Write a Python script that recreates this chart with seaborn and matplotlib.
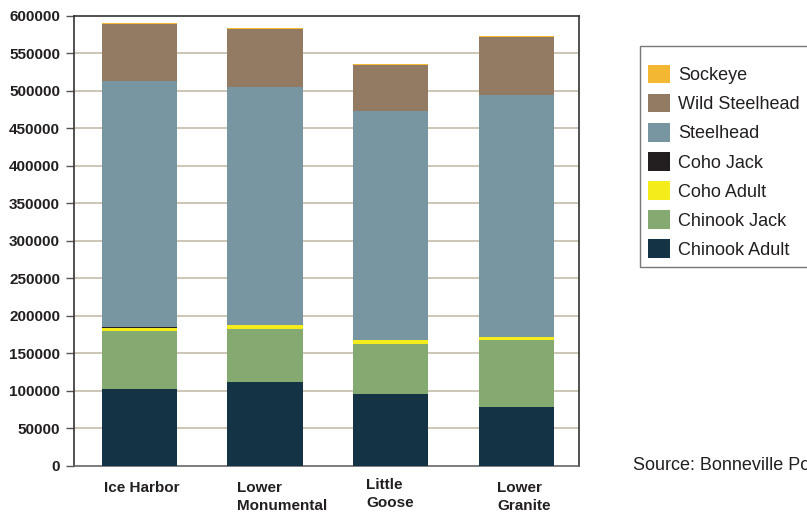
import numpy as np
import pandas as pd
import matplotlib
matplotlib.use("Agg")
import matplotlib.pyplot as plt
import seaborn as sns
from matplotlib.patches import Patch
from matplotlib.transforms import blended_transform_factory

sites = ["Ice Harbor", "Lower\nMonumental", "Little\nGoose", "Lower\nGranite"]
# stacked from bottom to top
species = ["Chinook Adult", "Chinook Jack", "Coho Adult", "Coho Jack",
           "Steelhead", "Wild Steelhead", "Sockeye"]
chinook_adult = [102700, 112000, 96000, 78700]
chinook_jack = [77300, 70700, 66700, 89300]
coho_adult = [4000, 5300, 5300, 4000]
coho_jack = [1700, 300, 300, 200]
steelhead = [327600, 317000, 305000, 322500]
wild_steelhead = [76500, 77400, 61400, 77300]
sockeye = [900, 1300, 1300, 1300]
yticks = list(range(0, 600001, 50000))

colors = {
    "Chinook Adult": "#143445",
    "Chinook Jack": "#84aa72",
    "Coho Adult": "#f5ec1c",
    "Coho Jack": "#231f20",
    "Steelhead": "#7895a2",
    "Wild Steelhead": "#937a62",
    "Sockeye": "#f4b731",
}

values = [chinook_adult, chinook_jack, coho_adult, coho_jack,
          steelhead, wild_steelhead, sockeye]
df = pd.DataFrame(np.array(values).T, columns=species)
cum = df[species].cumsum(axis=1)
cum["site"] = sites

sns.set_style("white")
plt.rcParams["font.family"] = ["Liberation Sans", "DejaVu Sans"]

fig = plt.figure(figsize=(8.07, 5.14), dpi=100)
ax = fig.add_axes([0.0917, 0.0934, 0.6258, 0.8755])

# draw cumulative totals from top layer down so the bars look stacked
for sp in reversed(species):
    sns.barplot(data=cum, x="site", y=sp, color=colors[sp], width=0.6,
                saturation=1, linewidth=0, ax=ax, zorder=3)

ax.set_xlim(-0.52, 3.5)
ax.set_ylim(0, 600000)
ax.set_yticks(yticks)
ax.set_yticklabels([str(t) for t in yticks], fontsize=11,
                   fontweight="bold", color="#231f20")
ax.set_ylabel("")
ax.set_xlabel("")
ax.set_xticks([])
for t in yticks[1:-1]:
    ax.axhline(t, color="#c9c1b1", lw=1.3, zorder=1)
ax.tick_params(axis="y", length=6, width=1, color="#555555", pad=4, left=True)

for side in ["left", "top", "right"]:
    ax.spines[side].set_color("#333333")
    ax.spines[side].set_linewidth(1.2)
ax.spines["bottom"].set_color("#666666")
ax.spines["bottom"].set_linewidth(1.2)

# category labels sit left-aligned under each bar
label_dx = [-0.28, -0.22, -0.195, -0.15]
label_dy = [-0.033, -0.033, -0.027, -0.033]
tr = blended_transform_factory(ax.transData, ax.transAxes)
for i, name in enumerate(sites):
    ax.text(i + label_dx[i], label_dy[i], name, transform=tr, ha="left",
            va="top", fontsize=11, fontweight="bold", color="#231f20",
            linespacing=1.35)

handles = [Patch(facecolor=colors[sp], edgecolor="none") for sp in reversed(species)]
leg = fig.legend(handles, list(reversed(species)), loc="upper left",
                 bbox_to_anchor=(640 / 807, 1 - 46 / 514), fontsize=13,
                 title=" ", title_fontsize=1,
                 frameon=True, fancybox=False, handlelength=1.2,
                 handleheight=1.2, handletextpad=0.45, labelspacing=0.54,
                 borderpad=0.45, borderaxespad=0)
leg.get_frame().set_edgecolor("#555555")
leg.get_frame().set_linewidth(1.0)
for txt in leg.get_texts():
    txt.set_color("#231f20")

fig.text(633 / 807, 1 - 466 / 514, "Source: Bonneville Power Administration",
         ha="left", va="center", fontsize=13, color="#231f20")

fig.savefig("out.png", dpi=100)
